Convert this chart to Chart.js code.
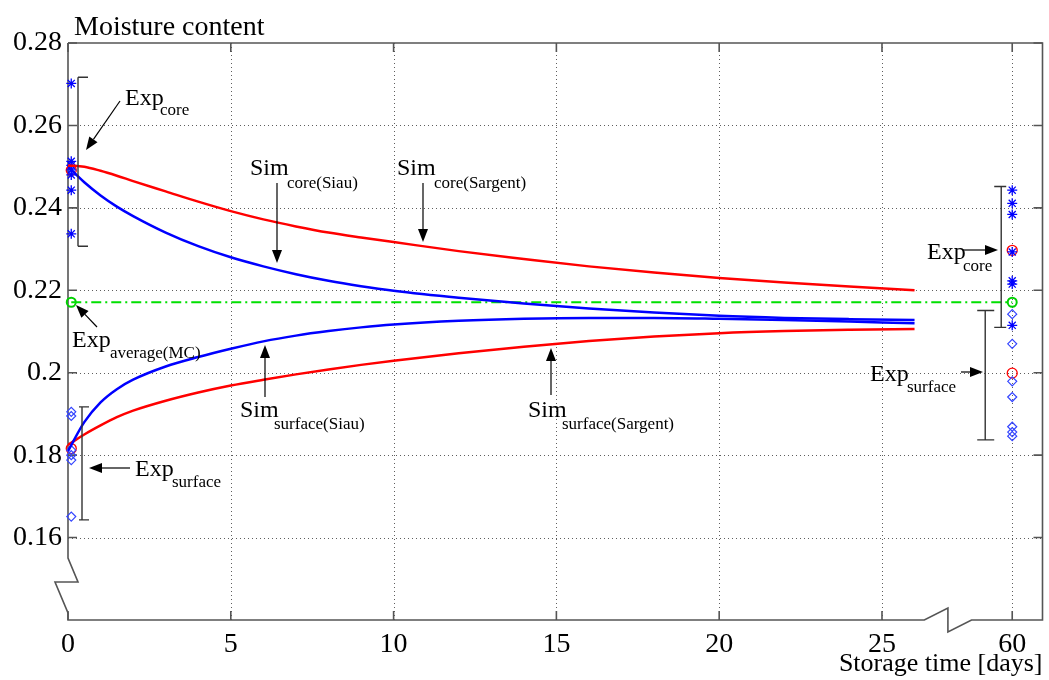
<!DOCTYPE html>
<html><head><meta charset="utf-8">
<script src="https://cdn.jsdelivr.net/npm/chart.js@4.4.0/dist/chart.umd.min.js"></script>
<style>html,body{margin:0;padding:0;background:#fff;}</style>
</head><body>
<canvas id="c" width="1049" height="680"></canvas>
<script>
// ---------- data ----------
const simDays = [0,0.5,1,1.5,2,3,4,5,6,7,8,9,10,12,14,16,18,20,22,24,26];
const simCoreSargent    = [0.2503,0.2500,0.2490,0.2478,0.2465,0.2440,0.2415,0.2392,0.2372,0.2355,0.2340,0.2328,0.2317,0.2295,0.2276,0.2258,0.2243,0.2230,0.2219,0.2209,0.2200];
const simCoreSiau       = [0.2500,0.2462,0.2430,0.2403,0.2380,0.2340,0.2307,0.2280,0.2258,0.2239,0.2223,0.2210,0.2199,0.2182,0.2168,0.2156,0.2146,0.2138,0.2133,0.2130,0.2128];
const simSurfaceSiau    = [0.1810,0.1880,0.1928,0.1960,0.1983,0.2015,0.2038,0.2058,0.2076,0.2090,0.2101,0.2110,0.2117,0.2126,0.2131,0.2133,0.2133,0.2131,0.2128,0.2124,0.2120];
const simSurfaceSargent = [0.1825,0.1850,0.1872,0.1892,0.1908,0.1932,0.1952,0.1969,0.1983,0.1996,0.2008,0.2019,0.2029,0.2047,0.2063,0.2077,0.2088,0.2096,0.2101,0.2104,0.2106];

const expDayStart = 0.1, expDayEnd = 60;
const expCoreStart    = [0.2702,0.2513,0.2503,0.2492,0.2480,0.2443,0.2337];
const expCoreEnd      = [0.2443,0.2411,0.2384,0.2293,0.2223,0.2215,0.2115];
const expSurfaceStart = [0.1905,0.1895,0.1812,0.1800,0.1788,0.1651];
const expSurfaceEnd   = [0.2142,0.2070,0.1979,0.1941,0.1869,0.1856,0.1846];
const expCircleStart  = [0.2491,0.1816];
const expCircleEnd    = [0.2297,0.1999];
const expAverage      = 0.2171;

// ranges of the experimental values (brackets)
const rangeDays = [0, 0, 60, 60];
const rangeLow  = [0.2307, 0.1643, 0.2110, 0.1837];
const rangeHigh = [0.2717, 0.1917, 0.2452, 0.2151];

const xTickDays = [0,5,10,15,20,25,60];
const yTicks = [0.16,0.18,0.20,0.22,0.24,0.26,0.28];

// axis break: days after the gap are drawn shifted
const brk = d => d >= 60 ? d - 31 : d;

// ---------- helpers ----------
const serif = '"Liberation Serif", "Times New Roman", serif';
const line = (vals, color) => ({
  data: simDays.map((d,i)=>({x:brk(d), y:vals[i]})),
  showLine:true, borderColor:color, borderWidth:2.5, pointRadius:0,
  cubicInterpolationMode:'monotone', fill:false
});
const pts = (day, vals, style, color, r, bw) => ({
  data: vals.map(v=>({x:brk(day), y:v})),
  showLine:false, pointStyle:style, pointRadius:r, pointBorderColor:color,
  pointBackgroundColor:'rgba(0,0,0,0)', pointBorderWidth:bw, clip:false
});

const annotations = [
  {main:'Exp', sub:'core', tx:125, ty:105, sx:160, sy:115, a:[120,101,86,150]},
  {main:'Sim', sub:'core(Siau)', tx:250, ty:175, sx:287, sy:188, a:[277,183,277,263]},
  {main:'Sim', sub:'core(Sargent)', tx:397, ty:175, sx:434, sy:188, a:[423,183,423,242]},
  {main:'Exp', sub:'average(MC)', tx:72, ty:347, sx:110, sy:358, a:[97,327,76,305]},
  {main:'Sim', sub:'surface(Siau)', tx:240, ty:417, sx:274, sy:429, a:[265,397,265,345]},
  {main:'Sim', sub:'surface(Sargent)', tx:528, ty:417, sx:562, sy:429, a:[551,395,551,348]},
  {main:'Exp', sub:'surface', tx:135, ty:476, sx:172, sy:487, a:[130,468,89,468]},
  {main:'Exp', sub:'core', tx:927, ty:259, sx:963, sy:271, a:[963,250,998,250]},
  {main:'Exp', sub:'surface', tx:870, ty:381, sx:907, sy:392, a:[961,372,983,372]}
];
const rangeStyle = [ {dx:10, c0:0, c1:10}, {dx:14, c0:-3, c1:7}, {dx:-11, c0:-7, c1:5}, {dx:-27, c0:-8, c1:9} ];

const framePlugin = {
  id:'frame',
  beforeDatasetsDraw(chart){
    const {ctx, chartArea:ca, scales:{x,y}} = chart;
    const L=ca.left, R=ca.right, T=ca.top, B=ca.bottom;
    ctx.save();
    // dotted grid
    ctx.strokeStyle='rgba(40,40,40,0.75)'; ctx.lineWidth=1; ctx.setLineDash([1,3]);
    ctx.beginPath();
    yTicks.forEach(v=>{ if(v<0.279){ const p=Math.round(y.getPixelForValue(v))+0.5; ctx.moveTo(L,p); ctx.lineTo(R,p);} });
    xTickDays.forEach(d=>{ if(d>0){ const p=Math.round(x.getPixelForValue(brk(d)))+0.5; ctx.moveTo(p,T); ctx.lineTo(p,B);} });
    ctx.stroke();
    ctx.setLineDash([]);
    // frame with breaks
    ctx.strokeStyle='#555'; ctx.lineWidth=1.6;
    const bx1=x.getPixelForValue(26.3), bx2=x.getPixelForValue(27.75), bxm=(bx1+bx2)/2;
    ctx.beginPath();
    ctx.moveTo(L,T); ctx.lineTo(R,T); ctx.lineTo(R,B);
    ctx.lineTo(bx2,B); ctx.lineTo(bxm,B+12); ctx.lineTo(bxm,B-12); ctx.lineTo(bx1,B); ctx.lineTo(L,B);
    ctx.lineTo(L,B-7); ctx.lineTo(L-13,B-38); ctx.lineTo(L+10,B-38); ctx.lineTo(L,B-62); ctx.lineTo(L,T);
    ctx.stroke();
    // inward ticks
    ctx.beginPath();
    yTicks.forEach(v=>{ const p=y.getPixelForValue(v); ctx.moveTo(L,p); ctx.lineTo(L+9,p); ctx.moveTo(R,p); ctx.lineTo(R-9,p); });
    xTickDays.forEach(d=>{ const p=x.getPixelForValue(brk(d)); ctx.moveTo(p,B); ctx.lineTo(p,B-9); ctx.moveTo(p,T); ctx.lineTo(p,T+9); });
    ctx.stroke();
    ctx.restore();
  },
  afterDatasetsDraw(chart){
    const {ctx, scales:{x,y}} = chart;
    ctx.save();
    // range brackets
    ctx.strokeStyle='#333'; ctx.lineWidth=1.4;
    rangeDays.forEach((d,i)=>{
      const s=rangeStyle[i];
      const px=x.getPixelForValue(brk(d))+s.dx, p1=y.getPixelForValue(rangeHigh[i]), p2=y.getPixelForValue(rangeLow[i]);
      ctx.beginPath();
      ctx.moveTo(px+s.c0,p1); ctx.lineTo(px+s.c1,p1);
      ctx.moveTo(px,p1); ctx.lineTo(px,p2);
      ctx.moveTo(px+s.c0,p2); ctx.lineTo(px+s.c1,p2);
      ctx.stroke();
    });
    // annotations
    ctx.fillStyle='#000'; ctx.strokeStyle='#000'; ctx.textBaseline='alphabetic'; ctx.textAlign='left';
    annotations.forEach(a=>{
      ctx.font='24px '+serif; ctx.fillText(a.main, a.tx, a.ty);
      ctx.font='17px '+serif; ctx.fillText(a.sub, a.sx, a.sy);
      const [x1,y1,x2,y2]=a.a;
      const ang=Math.atan2(y2-y1,x2-x1), hl=13, hw=5;
      const bx=x2-hl*Math.cos(ang), by=y2-hl*Math.sin(ang);
      ctx.lineWidth=1.2;
      ctx.beginPath(); ctx.moveTo(x1,y1); ctx.lineTo(bx,by); ctx.stroke();
      ctx.beginPath(); ctx.moveTo(x2,y2);
      ctx.lineTo(bx+hw*Math.sin(ang), by-hw*Math.cos(ang));
      ctx.lineTo(bx-hw*Math.sin(ang), by+hw*Math.cos(ang));
      ctx.closePath(); ctx.fill();
    });
    // y title
    ctx.font='28px '+serif; ctx.fillText('Moisture content', 74, 35);
    ctx.restore();
  }
};

new Chart(document.getElementById('c'), {
  type:'scatter',
  data:{ datasets:[
    line(simCoreSargent,'#ff0000'),
    line(simCoreSiau,'#0000ff'),
    line(simSurfaceSiau,'#0000ff'),
    line(simSurfaceSargent,'#ff0000'),
    { data:[{x:brk(expDayStart),y:expAverage},{x:brk(expDayEnd),y:expAverage}], showLine:true,
      borderColor:'#00e000', borderWidth:2, borderDash:[10,4,2,4], pointRadius:0 },
    pts(expDayStart, expCoreStart, 'star', '#0000ff', 5, 1.3),
    pts(expDayEnd, expCoreEnd, 'star', '#0000ff', 5, 1.3),
    pts(expDayStart, expSurfaceStart, 'rectRot', '#3344ff', 4.5, 1.2),
    pts(expDayEnd, expSurfaceEnd, 'rectRot', '#3344ff', 4.5, 1.2),
    pts(expDayStart, expCircleStart, 'circle', '#ff0000', 5, 1.3),
    pts(expDayEnd, expCircleEnd, 'circle', '#ff0000', 5, 1.3),
    pts(expDayStart, [expAverage], 'circle', '#00d000', 4.5, 2),
    pts(expDayEnd, [expAverage], 'circle', '#00d000', 4.5, 2)
  ]},
  options:{
    responsive:false, devicePixelRatio:1, animation:false,
    layout:{ padding:{top:43, right:5, left:0, bottom:0} },
    plugins:{ legend:{display:false}, tooltip:{enabled:false} },
    scales:{
      x:{ type:'linear', min:0, max:29.93,
        grid:{display:false, drawTicks:false}, border:{display:false},
        afterBuildTicks: s => { s.ticks = xTickDays.map(d=>({value:brk(d)})); },
        afterFit: s => { s.height = 60; },
        ticks:{ color:'#000', padding:8, maxRotation:0, autoSkip:false, font:{family:serif, size:28},
          callback: (v) => { const i = xTickDays.findIndex(d=>brk(d)===v); return i>=0 ? String(xTickDays[i]) : ''; } },
        title:{ display:true, text:'Storage time [days]', align:'end', color:'#000', padding:{top:0,bottom:0}, font:{family:serif, size:26} }
      },
      y:{ type:'linear', min:0.14, max:0.28,
        grid:{display:false, drawTicks:false}, border:{display:false},
        afterBuildTicks: s => { s.ticks = yTicks.map(v=>({value:v})); },
        afterFit: s => { s.width = 68; },
        ticks:{ color:'#000', padding:6, font:{family:serif, size:28},
          callback: v => String(+v.toFixed(2)) }
      }
    }
  },
  plugins:[framePlugin]
});
</script>
</body></html>
